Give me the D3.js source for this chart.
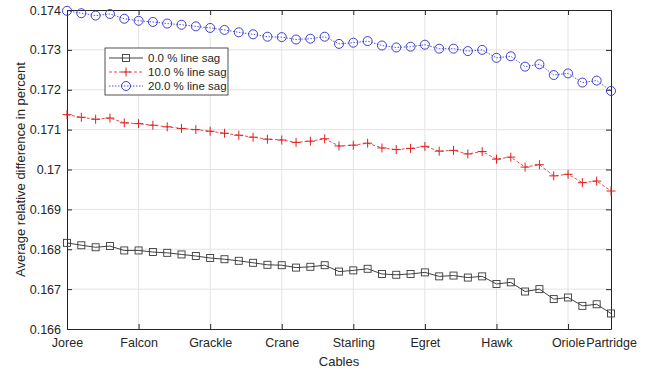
<!DOCTYPE html>
<html>
<head>
<meta charset="utf-8">
<script src="https://cdn.jsdelivr.net/npm/d3@7"></script>
<style>
  body { margin: 0; background: #fff; }
  text { font-family: "Liberation Sans", Arial, sans-serif; fill: #262626; }
</style>
</head>
<body>
<div id="chart"></div>
<script>
// data (39 cables, only some are labelled)
var tickIndex = [1, 6, 11, 16, 21, 26, 31, 36, 39];
var tickNames = ["Joree", "Falcon", "Grackle", "Crane", "Starling", "Egret", "Hawk", "Oriole", "Partridge"];

var sag0 = [0.16816, 0.16810, 0.16805, 0.16808, 0.16797, 0.16797, 0.16793, 0.16791, 0.16787, 0.16783,
  0.16778, 0.16775, 0.16771, 0.16766, 0.16761, 0.16760, 0.16754, 0.16756, 0.16760, 0.16744,
  0.16747, 0.16751, 0.16738, 0.16736, 0.16738, 0.16742, 0.16732, 0.16734, 0.16729, 0.16732,
  0.16713, 0.16717, 0.16694, 0.16700, 0.16675, 0.16679, 0.16658, 0.16662, 0.16639];
var sag10 = [0.171375, 0.17131, 0.17126, 0.17129, 0.17117, 0.17115, 0.17111, 0.17107, 0.17103, 0.17100,
  0.17096, 0.17091, 0.17086, 0.17081, 0.17076, 0.17074, 0.17068, 0.17071, 0.17077, 0.17059,
  0.17061, 0.17066, 0.17054, 0.17050, 0.17053, 0.17058, 0.17046, 0.17048, 0.17039, 0.17045,
  0.17026, 0.17031, 0.17006, 0.17012, 0.16984, 0.16988, 0.16967, 0.16971, 0.16946];
var sag20 = [0.17398, 0.17392, 0.17386, 0.17390, 0.17378, 0.17373, 0.17370, 0.17366, 0.17363, 0.17359,
  0.17355, 0.17350, 0.17344, 0.17339, 0.17333, 0.17332, 0.17326, 0.17328, 0.17333, 0.17315,
  0.17318, 0.17322, 0.17311, 0.17306, 0.17308, 0.17313, 0.17303, 0.17303, 0.17297, 0.17300,
  0.17280, 0.17284, 0.17258, 0.17264, 0.17237, 0.17241, 0.17218, 0.17223, 0.17197];
var yTicks = [0.166, 0.167, 0.168, 0.169, 0.17, 0.171, 0.172, 0.173, 0.174];
var seriesNames = ["0.0 % line sag", "10.0 % line sag", "20.0 % line sag"];

var svgWidth = 650;
var svgHeight = 371;
var margin = { top: 10, right: 39, bottom: 42, left: 67 };
var width = svgWidth - margin.left - margin.right;
var height = svgHeight - margin.top - margin.bottom;

var svg = d3.select("#chart")
  .append("svg")
  .attr("width", svgWidth)
  .attr("height", svgHeight);

var chartGroup = svg.append("g")
  .attr("transform", `translate(${margin.left}, ${margin.top})`);

var xScale = d3.scaleLinear().domain([1, 39]).range([0, width]);
var yScale = d3.scaleLinear().domain([0.166, 0.174]).range([height, 0]);

// grid
chartGroup.append("g").selectAll("line")
  .data(tickIndex.slice(1, -1))
  .enter().append("line")
  .attr("x1", d => xScale(d)).attr("x2", d => xScale(d))
  .attr("y1", 0).attr("y2", height)
  .attr("stroke", "#e3e3e3");
chartGroup.append("g").selectAll("line")
  .data(yTicks.slice(1, -1))
  .enter().append("line")
  .attr("y1", d => yScale(d)).attr("y2", d => yScale(d))
  .attr("x1", 0).attr("x2", width)
  .attr("stroke", "#e3e3e3");

// axes, ticks pointing inward like matlab
var bottomAxis = d3.axisBottom(xScale).tickValues(tickIndex)
  .tickFormat((d, i) => tickNames[i]).tickSizeInner(-5).tickSizeOuter(0).tickPadding(9);
var leftAxis = d3.axisLeft(yScale).tickValues(yTicks)
  .tickFormat(d => d3.format("")(+d.toFixed(3))).tickSizeInner(-5).tickSizeOuter(0).tickPadding(6);
var topAxis = d3.axisTop(xScale).tickValues(tickIndex).tickFormat("").tickSizeInner(-5).tickSizeOuter(0);
var rightAxis = d3.axisRight(yScale).tickValues(yTicks).tickFormat("").tickSizeInner(-5).tickSizeOuter(0);

function styleAxis(g) {
  g.selectAll("path, line").attr("stroke", "#262626");
  g.selectAll("text").attr("font-size", 12.5).attr("fill", "#262626")
    .attr("font-family", "'Liberation Sans', Arial, sans-serif");
}

chartGroup.append("g").attr("transform", `translate(0, ${height})`).call(bottomAxis).call(styleAxis);
chartGroup.append("g").call(leftAxis).call(styleAxis);
chartGroup.append("g").call(topAxis).call(styleAxis);
chartGroup.append("g").attr("transform", `translate(${width}, 0)`).call(rightAxis).call(styleAxis);

// series
var series = [
  { values: sag0, color: "#111111", dash: null, marker: "square" },
  { values: sag10, color: "#e01e1e", dash: "3,2", marker: "plus" },
  { values: sag20, color: "#2b2bd0", dash: "1.5,1.5", marker: "circle" }
];

var line = d3.line().x((d, i) => xScale(i + 1)).y(d => yScale(d));

function drawMarker(g, type, color) {
  if (type === "square") {
    g.append("rect").attr("x", -3.5).attr("y", -3.5).attr("width", 7).attr("height", 7)
      .attr("fill", "none").attr("stroke", "#3a3a3a").attr("stroke-width", 0.9);
  } else if (type === "plus") {
    g.append("path").attr("d", "M-4.5,0H4.5M0,-4.5V4.5")
      .attr("stroke", color).attr("stroke-width", 1);
  } else {
    g.append("circle").attr("r", 4.5).attr("fill", "none")
      .attr("stroke", color).attr("stroke-width", 0.9);
  }
}

series.forEach(function(s) {
  chartGroup.append("path")
    .datum(s.values)
    .attr("d", line)
    .attr("fill", "none")
    .attr("stroke", s.color)
    .attr("stroke-width", 0.8)
    .attr("stroke-dasharray", s.dash);

  chartGroup.append("g").selectAll("g")
    .data(s.values)
    .enter().append("g")
    .attr("transform", (d, i) => `translate(${xScale(i + 1)}, ${yScale(d)})`)
    .each(function() { drawMarker(d3.select(this), s.marker, s.color); });
});

// legend
var legend = svg.append("g").attr("transform", "translate(105, 48)");
legend.append("rect").attr("width", 123).attr("height", 47)
  .attr("fill", "#fff").attr("stroke", "#262626").attr("stroke-width", 0.8);
series.forEach(function(s, i) {
  var y = 10 + i * 14;
  legend.append("line").attr("x1", 4).attr("x2", 38).attr("y1", y).attr("y2", y)
    .attr("stroke", s.color).attr("stroke-width", 0.8).attr("stroke-dasharray", s.dash);
  var m = legend.append("g").attr("transform", `translate(21, ${y})`);
  drawMarker(m, s.marker, s.color);
  legend.append("text").attr("x", 43).attr("y", y + 4)
    .attr("font-size", 11.5).text(seriesNames[i]);
});

// axis labels
chartGroup.append("text")
  .attr("transform", "rotate(-90)")
  .attr("x", -height / 2)
  .attr("y", -margin.left + 25)
  .attr("text-anchor", "middle")
  .attr("font-size", 13)
  .text("Average relative difference in percent");

chartGroup.append("text")
  .attr("x", width / 2)
  .attr("y", height + 37)
  .attr("text-anchor", "middle")
  .attr("font-size", 13)
  .text("Cables");
</script>
</body>
</html>
